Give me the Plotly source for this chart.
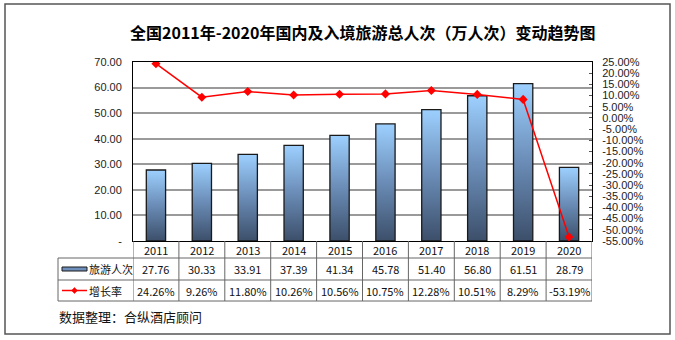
import plotly.graph_objects as go

# ---------------- data ----------------
years = [2011, 2012, 2013, 2014, 2015, 2016, 2017, 2018, 2019, 2020]
visits = [27.76, 30.33, 33.91, 37.39, 41.34, 45.78, 51.40, 56.80, 61.51, 28.79]
growth = [24.26, 9.26, 11.80, 10.26, 10.56, 10.75, 12.28, 10.51, 8.29, -53.19]
left_ticks = [0, 10, 20, 30, 40, 50, 60, 70]
right_ticks = list(range(-55, 30, 5))
bar_name = "旅游人次"
line_name = "增长率"
title = "全国2011年-2020年国内及入境旅游总人次（万人次）变动趋势图"
footer = "数据整理：合纵酒店顾问"

# ---------------- layout geometry (pixels) ----------------
W, H = 675, 340
L, R, T, B = 133, 592, 62, 241
PW, PH = R - L, B - T


def px(x):
    return (x - L) / PW


def py(y):
    return (B - y) / PH


BAR_W = 0.42
CJK = "Noto Sans CJK SC"
ARIAL = "Liberation Sans, Arial"

fig = go.Figure()

# bars with vertical gradient
for i, v in enumerate(visits):
    fig.add_trace(go.Scatter(
        x=[i - BAR_W / 2, i - BAR_W / 2, i + BAR_W / 2, i + BAR_W / 2, i - BAR_W / 2],
        y=[0, v, v, 0, 0],
        mode="lines", fill="toself",
        fillgradient=dict(type="vertical",
                          colorscale=[[0, "#3c4f6a"], [0.5, "#6a8cb6"], [1, "#9dd0ff"]]),
        line=dict(color="#1a1a1a", width=1.3),
        hoverinfo="skip", showlegend=False, yaxis="y",
    ))

# growth line
fig.add_trace(go.Scatter(
    x=list(range(len(years))), y=growth, yaxis="y2",
    mode="lines+markers",
    line=dict(color="#ff0000", width=1.5),
    marker=dict(symbol="diamond", size=7, color="#ff0000"),
    showlegend=False, name=line_name,
))

shapes = []
annotations = []


def ann(text, x, y, xref="paper", xanchor="center", font=None):
    annotations.append(dict(text=text, x=x, y=y, xref=xref, yref="paper",
                            xanchor=xanchor, yanchor="middle", showarrow=False, font=font))


# title
ann(f"<b>{title}</b>", px(362), py(32), font=dict(family=CJK, size=16, color="#000"))

# outer border
shapes.append(dict(type="rect", xref="paper", yref="paper", x0=px(5), x1=px(670), y0=py(334), y1=py(4),
                   line=dict(color="#555", width=1.5), fillcolor="rgba(0,0,0,0)", layer="below"))

# table geometry
rows = [241, 258, 280, 301]
tcol = "#666"
lab_left = 58
for yy in rows[1:]:
    shapes.append(dict(type="line", xref="paper", yref="paper", x0=px(lab_left), x1=px(R),
                       y0=py(yy), y1=py(yy), line=dict(color=tcol, width=1)))
for k in range(len(years) + 1):
    shapes.append(dict(type="line", xref="x", yref="paper", x0=k - 0.5, x1=k - 0.5,
                       y0=py(rows[0]), y1=py(rows[3]), line=dict(color=tcol, width=1)))
shapes.append(dict(type="line", xref="paper", yref="paper", x0=px(lab_left), x1=px(lab_left),
                   y0=py(rows[1]), y1=py(rows[3]), line=dict(color=tcol, width=1)))

# table cells
ty = [(rows[0] + rows[1]) / 2 + 0.5, (rows[1] + rows[2]) / 2, (rows[2] + rows[3]) / 2]
tfont = dict(family=CJK, size=11, color="#111")
for i, yr in enumerate(years):
    ann(str(yr), i, py(ty[0]), xref="x", font=tfont)
    ann(f"{visits[i]:.2f}", i, py(ty[1]), xref="x", font=tfont)
    ann(f"{growth[i]:.2f}%", i, py(ty[2]), xref="x", font=tfont)

# row labels + legend icons
ann(bar_name, px(87), py(ty[1]), xanchor="left", font=tfont)
ann(line_name, px(87), py(ty[2]), xanchor="left", font=tfont)
shapes.append(dict(type="rect", xref="paper", yref="paper", x0=px(62), x1=px(87),
                   y0=py(ty[1] + 2), y1=py(ty[1] - 2),
                   fillcolor="#6f90bd", line=dict(color="#1a1a1a", width=1)))
shapes.append(dict(type="line", xref="paper", yref="paper", x0=px(62), x1=px(87),
                   y0=py(ty[2]), y1=py(ty[2]), line=dict(color="#ff0000", width=1.5)))
cx, cy, d = 74.5, ty[2], 3
shapes.append(dict(type="path", xref="paper", yref="paper",
                   path=f"M {px(cx - d)} {py(cy)} L {px(cx)} {py(cy - d)} L {px(cx + d)} {py(cy)} L {px(cx)} {py(cy + d)} Z",
                   fillcolor="#ff0000", line=dict(color="#ff0000", width=0.5)))

# footer
ann(footer, px(57), py(316), xanchor="left", font=dict(family=CJK, size=13, color="#111"))

fig.update_layout(
    width=W, height=H,
    margin=dict(l=L, r=W - R, t=T, b=H - B, pad=0),
    paper_bgcolor="white", plot_bgcolor="white",
    showlegend=False,
    xaxis=dict(range=[-0.5, len(years) - 0.5], showticklabels=False, showgrid=False, zeroline=False,
               showline=True, mirror=True, linecolor="#000", linewidth=1, fixedrange=True),
    yaxis=dict(range=[0, 70], tickvals=left_ticks,
               ticktext=["-" if t == 0 else f"{t:.2f}" for t in left_ticks],
               showgrid=True, gridcolor="#9a9a9a", gridwidth=1.5, zeroline=False,
               showline=True, linecolor="#000", linewidth=1, ticks="", ticklabelstandoff=8,
               tickfont=dict(family=ARIAL, size=11, color="#222")),
    yaxis2=dict(range=[-55, 25], overlaying="y", side="right", tickvals=right_ticks,
                ticktext=[f"{t:.2f}%" for t in right_ticks],
                showgrid=False, zeroline=False, showline=True, linecolor="#000", linewidth=1,
                ticks="inside", ticklen=3, tickcolor="#555", ticklabelstandoff=7,
                tickfont=dict(family=ARIAL, size=11, color="#222")),
    shapes=shapes, annotations=annotations,
)

fig.write_html("out.html")
